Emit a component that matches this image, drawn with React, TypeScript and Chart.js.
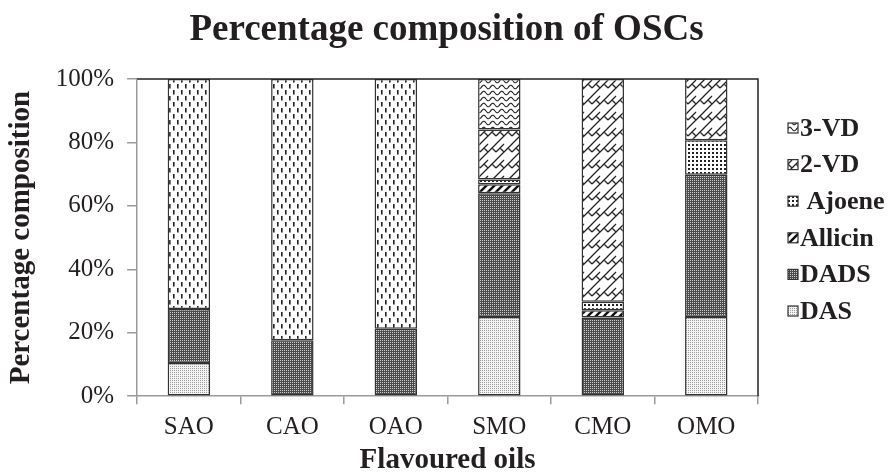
import React, { useEffect, useRef } from "react";
import { Chart, registerables } from "chart.js";

Chart.register(...registerables);

// ---- data ----
const categories = ["SAO", "CAO", "OAO", "SMO", "CMO", "OMO"];
const dasValues = [10.5, null, null, 25, null, 25];
const dadsValues = [17, 17.6, 21.3, 39, 24.8, 44.8];
const allicinValues = [null, null, null, 2.8, 2.3, null];
const ajoeneValues = [null, null, null, 1.5, 2.7, 10.9];
const vd2Values = [null, null, null, 15.8, 70.2, 19.5];
const vd3Values = [72.5, 82.4, 78.7, 15.9, null, null];
const seriesNames = ["DAS", "DADS", "Allicin", " Ajoene", "2-VD", "3-VD"];
const yTickValues = [0, 20, 40, 60, 80, 100];

const TEXT = "#231f20";
const SERIF = "'Liberation Serif', 'Times New Roman', serif";

function makePattern(w: number, h: number, draw: (c: CanvasRenderingContext2D) => void): CanvasPattern {
  const cv = document.createElement("canvas");
  cv.width = w;
  cv.height = h;
  const c = cv.getContext("2d")!;
  draw(c);
  const ctx = document.createElement("canvas").getContext("2d")!;
  return ctx.createPattern(cv, "repeat")!;
}

function buildPatterns() {
  const das = makePattern(2, 2, (c) => {
    c.fillStyle = "#f4f4f4";
    c.fillRect(0, 0, 2, 2);
    c.fillStyle = "#9a9a9a";
    c.fillRect(0, 0, 1, 1);
  });
  const dads = makePattern(2, 2, (c) => {
    c.fillStyle = "#4a4a4a";
    c.fillRect(0, 0, 2, 2);
    c.fillStyle = "#d0d0d0";
    c.fillRect(0, 0, 1, 1);
  });
  const allicin = makePattern(8, 8, (c) => {
    c.fillStyle = "#fff";
    c.fillRect(0, 0, 8, 8);
    c.strokeStyle = "#111";
    c.lineWidth = 2.4;
    c.beginPath();
    c.moveTo(-2, 10); c.lineTo(10, -2);
    c.moveTo(-6, 6); c.lineTo(6, -6);
    c.moveTo(2, 14); c.lineTo(14, 2);
    c.stroke();
  });
  const ajoene = makePattern(4, 4, (c) => {
    c.fillStyle = "#fff";
    c.fillRect(0, 0, 4, 4);
    c.fillStyle = "#222";
    c.fillRect(0, 0, 2, 2);
  });
  const brick = makePattern(16, 16, (c) => {
    c.fillStyle = "#fff";
    c.fillRect(0, 0, 16, 16);
    c.strokeStyle = "#222";
    c.lineWidth = 1.3;
    c.beginPath();
    for (const ox of [-16, 0, 16]) {
      for (const oy of [-16, 0, 16]) {
        c.moveTo(ox + 0, oy + 8); c.lineTo(ox + 8, oy + 0);
        c.moveTo(ox + 0, oy + 16); c.lineTo(ox + 16, oy + 0);
        c.moveTo(ox + 4, oy + 4); c.lineTo(ox + 8, oy + 8);
        c.moveTo(ox + 12, oy + 4); c.lineTo(ox + 16, oy + 8);
      }
    }
    c.stroke();
  });
  const wave = makePattern(9, 6, (c) => {
    c.fillStyle = "#fff";
    c.fillRect(0, 0, 9, 6);
    c.strokeStyle = "#222";
    c.lineWidth = 1.2;
    c.beginPath();
    for (let x = 0; x <= 9; x += 0.5) {
      const y = 3 + 1.8 * Math.sin((x / 9) * Math.PI * 2);
      if (x === 0) c.moveTo(x, y);
      else c.lineTo(x, y);
    }
    c.stroke();
  });
  const dash = makePattern(8, 12, (c) => {
    c.fillStyle = "#fff";
    c.fillRect(0, 0, 8, 12);
    c.fillStyle = "#222";
    c.fillRect(1, 0, 1.6, 4.5);
    c.fillRect(5, 6, 1.6, 4.5);
  });
  return { das, dads, allicin, ajoene, brick, wave, dash };
}

export default function App() {
  const ref = useRef<HTMLCanvasElement | null>(null);

  useEffect(() => {
    if (!ref.current) return;
    const p = buildPatterns();
    const vd3Fill = categories.map((_, i) => (i < 3 ? p.dash : p.wave));

    const framePlugin = {
      id: "frame",
      afterDatasetsDraw(chart: any) {
        const { ctx, chartArea } = chart;
        ctx.save();
        ctx.strokeStyle = "#222";
        ctx.lineWidth = 1.5;
        ctx.beginPath();
        ctx.moveTo(chartArea.left, chartArea.top);
        ctx.lineTo(chartArea.right, chartArea.top);
        ctx.lineTo(chartArea.right, chartArea.bottom);
        ctx.stroke();
        ctx.restore();
      },
    };

    const legendPlugin = {
      id: "sideLegend",
      afterDraw(chart: any) {
        const { ctx, chartArea } = chart;
        const ds = chart.data.datasets;
        const boxX = chartArea.right + 30;
        const startY = 128;
        const step = 36.6;
        ctx.save();
        ctx.font = `bold 26px ${SERIF}`;
        ctx.textBaseline = "middle";
        ctx.textAlign = "left";
        for (let k = 0; k < ds.length; k++) {
          const d = ds[ds.length - 1 - k];
          const y = startY + k * step;
          const fill = Array.isArray(d.backgroundColor) ? d.backgroundColor[d.backgroundColor.length - 1] : d.backgroundColor;
          ctx.fillStyle = fill;
          ctx.fillRect(boxX, y - 5, 10, 10);
          ctx.strokeStyle = "#333";
          ctx.lineWidth = 1.2;
          ctx.strokeRect(boxX, y - 5, 10, 10);
          ctx.fillStyle = TEXT;
          ctx.fillText(d.label, boxX + 12, y + 1);
        }
        ctx.restore();
      },
    };

    const valueSets = [dasValues, dadsValues, allicinValues, ajoeneValues, vd2Values, vd3Values];
    const fills: any[] = [p.das, p.dads, p.allicin, p.ajoene, p.brick, vd3Fill];

    const chart = new Chart(ref.current, {
      type: "bar",
      data: {
        labels: categories,
        datasets: seriesNames.map((name, i) => ({
          label: name,
          data: valueSets[i],
          backgroundColor: fills[i],
          borderColor: "#333",
          borderWidth: 1.5,
          borderSkipped: false,
          categoryPercentage: 1,
          barPercentage: 0.41,
          yAxisID: "y",
        })) as any,
      },
      options: {
        animation: false,
        responsive: false,
        layout: { padding: { left: 4, right: 0, top: 0, bottom: 0 } },
        plugins: {
          legend: { display: false },
          tooltip: { enabled: false },
          title: {
            display: true,
            text: "Percentage composition of OSCs",
            color: TEXT,
            font: { family: SERIF, size: 37, weight: "bold" },
            padding: { top: 8, bottom: 26.6 },
          },
        },
        scales: {
          x: {
            stacked: true,
            grid: { offset: true, drawOnChartArea: false, drawTicks: true, tickLength: 8, color: "#9a9a9a", lineWidth: 1.5 },
            border: { color: "#9a9a9a", width: 1.5 },
            ticks: { color: TEXT, font: { family: SERIF, size: 25 }, padding: 8 },
            title: {
              display: true,
              text: "Flavoured oils",
              color: TEXT,
              font: { family: SERIF, size: 29, weight: "bold" },
              padding: { top: -7, bottom: -3 },
            },
          },
          y: {
            stacked: true,
            min: 0,
            max: 100,
            afterBuildTicks: (axis: any) => {
              axis.ticks = yTickValues.map((v) => ({ value: v }));
            },
            grid: { drawOnChartArea: false, drawTicks: true, tickLength: 10, color: "#9a9a9a", lineWidth: 1.5 },
            border: { color: "#9a9a9a", width: 1.5 },
            ticks: {
              color: TEXT,
              font: { family: SERIF, size: 25 },
              padding: 13,
              callback: (v: any) => `${v}%`,
            },
            title: {
              display: true,
              text: "Percentage composition",
              color: TEXT,
              font: { family: SERIF, size: 29, weight: "bold" },
              padding: { top: 0, bottom: 4 },
            },
          },
          legendSpace: {
            type: "linear",
            position: "right",
            display: true,
            grid: { display: false, drawTicks: false },
            border: { display: false },
            ticks: { display: false },
            afterFit: (s: any) => {
              s.width = 131;
            },
          } as any,
        },
      },
      plugins: [framePlugin, legendPlugin],
    });

    return () => chart.destroy();
  }, []);

  return (
    <div style={{ position: "fixed", left: 0, top: 0, width: 889, height: 475, background: "#fff" }}>
      <canvas ref={ref} width={889} height={475} />
    </div>
  );
}
